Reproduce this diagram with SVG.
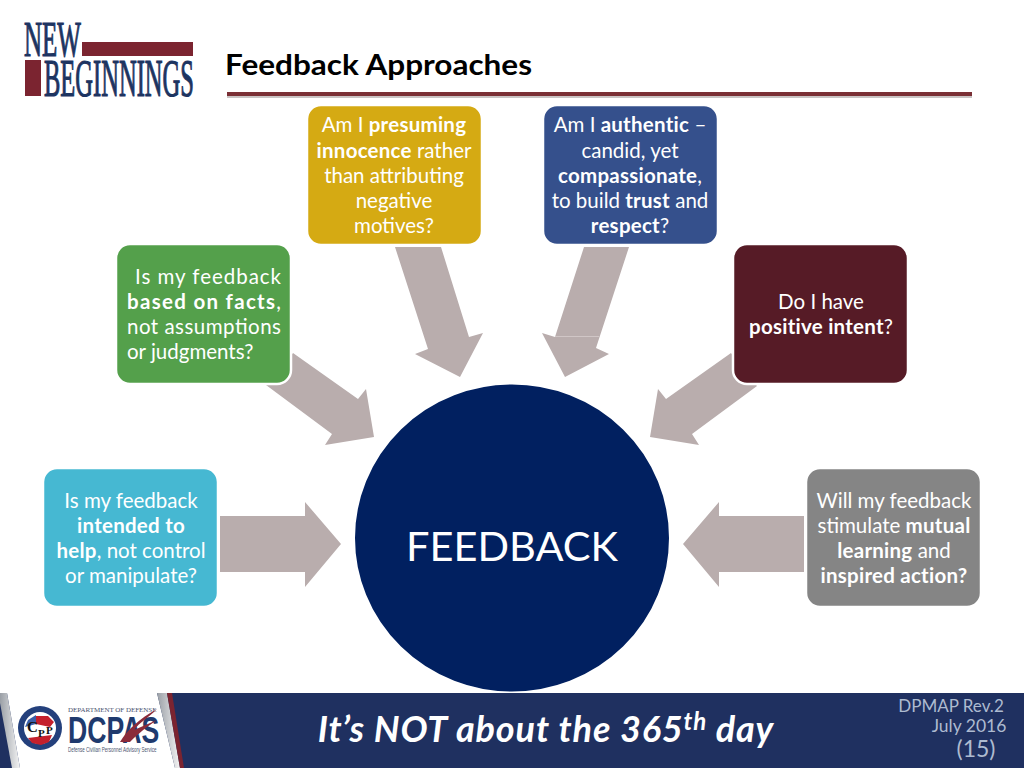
<svg xmlns="http://www.w3.org/2000/svg" width="1024" height="768" viewBox="0 0 1024 768">
<style>
text{font-family:Lato,"Noto Sans",sans-serif}
.b{stroke:#fff;stroke-width:2.5}
.t{font-size:20.5px;fill:#fff;text-anchor:middle}
.tl{font-size:20.5px;fill:#fff}
.s{font-weight:700;letter-spacing:.25px}
.a{fill:#b9adad}
.f{fill:#aebbd0;text-anchor:middle}
.sf{font-family:"Liberation Serif",serif}
.ss{font-family:"Liberation Sans",sans-serif}
</style>
<defs>
<linearGradient id="band" x1="0" x2="1" y1="0" y2="0"><stop offset="0" stop-color="#9a9fa6"/><stop offset="1" stop-color="#f4f4f4"/></linearGradient>
</defs>
<rect width="1024" height="768" fill="#fff"/>
<g id="logo">
<rect x="82" y="42" width="111" height="14" fill="#7b2430"/>
<rect x="25" y="60" width="16" height="36" fill="#7b2430"/>
<text class="sf" transform="translate(24 56) scale(.5 1)" font-size="50" fill="#1d3461" stroke="#1d3461" stroke-width="1.2">NEW</text>
<text class="sf" transform="translate(44 96) scale(.472 1)" font-size="52" fill="#1d3461" stroke="#1d3461" stroke-width="1.2">BEGINNINGS</text>
</g>
<g id="title">
<text x="225" y="75" font-size="28" font-weight="700" fill="#000" textLength="307" lengthAdjust="spacingAndGlyphs">Feedback Approaches</text>
<rect x="227" y="95" width="745" height="3" fill="#c9c4c4"/>
<rect x="227" y="92" width="745" height="4" fill="#7a2f35"/>
</g>
<g id="connectors">
<polygon class="a" points="395,247 441,247 469,337 483,333 460,377 415,354 428,349"/>
<polygon class="a" points="584,247 629,247 596,348 609,354 565,377 542,333 555,337"/>
<line x1="555" y1="336.5" x2="599" y2="336.5" stroke="#d6cdcd" stroke-width=".8"/>
<polygon class="a" points="293,353 358,399 366,389 374,437 325,445 332,434 266,385"/>
<polygon class="a" points="731,353 666,399 658,389 650,437 699,445 692,434 757,386"/>
<polygon class="a" points="220,516 305,516 305,502 341,544 305,587 305,572 220,572"/>
<polygon class="a" points="804,516 719,516 719,502 683,544 719,587 719,572 804,572"/>
</g>
<g id="node-presuming">
<rect class="b" x="307" y="105" width="175" height="140" rx="14" fill="#d5aa13"/>
<text class="t" x="394" y="132">Am I <tspan class="s">presuming</tspan></text>
<text class="t" x="394" y="157.500"><tspan class="s">innocence</tspan> rather</text>
<text class="t" x="394" y="182.500">than attributing</text>
<text class="t" x="394" y="207.500">negative</text>
<text class="t" x="394" y="232.500">motives?</text>
</g>
<g id="node-authentic">
<rect class="b" x="543" y="105" width="175" height="140" rx="14" fill="#35508c"/>
<text class="t" x="630" y="132">Am I <tspan class="s">authentic</tspan> –</text>
<text class="t" x="630" y="157.500">candid, yet</text>
<text class="t" x="630" y="182.500"><tspan class="s">compassionate</tspan>,</text>
<text class="t" x="630" y="207.500">to build <tspan class="s">trust</tspan> and</text>
<text class="t" x="630" y="232.500"><tspan class="s">respect</tspan>?</text>
</g>
<g id="node-facts">
<rect class="b" x="116" y="244" width="175" height="140" rx="14" fill="#54a04b"/>
<text class="tl" x="135" y="283.500" textLength="146">Is my feedback</text>
<text class="tl" x="127" y="308.500" textLength="154"><tspan class="s">based on facts</tspan>,</text>
<text class="tl" x="127" y="333.500" textLength="154">not assumptions</text>
<text class="tl" x="127" y="358.500">or judgments?</text>
</g>
<g id="node-intent">
<rect class="b" x="733" y="244" width="175" height="140" rx="14" fill="#561b26"/>
<text class="t" x="821" y="308.500">Do I have</text>
<text class="t" x="821" y="334">  <tspan class="s">positive intent</tspan>?</text>
</g>
<g id="node-help">
<rect class="b" x="43" y="468" width="175" height="139" rx="14" fill="#46b8d2"/>
<text class="t" x="131" y="507.500">Is my feedback</text>
<text class="t" x="131" y="532.500"><tspan class="s">intended to</tspan></text>
<text class="t" x="131" y="557.500"><tspan class="s">help</tspan>, not control</text>
<text class="t" x="131" y="582.500">or manipulate?</text>
</g>
<g id="node-mutual">
<rect class="b" x="806" y="468" width="175" height="139" rx="14" fill="#858585"/>
<text class="t" x="894" y="507.500">Will my feedback</text>
<text class="t" x="894" y="532.500">stimulate <tspan class="s">mutual</tspan></text>
<text class="t" x="894" y="557.500"><tspan class="s">learning</tspan> and</text>
<text class="t" x="894" y="582.500"><tspan class="s">inspired action?</tspan></text>
</g>
<g id="node-feedback">
<ellipse cx="512" cy="538" rx="158" ry="154.5" fill="#012060" stroke="#fff" stroke-width="2"/>
<text x="512" y="561" font-size="41.500" fill="#fff" text-anchor="middle">FEEDBACK</text>
</g>
<g id="footer">
<rect x="0" y="693" width="1024" height="75" fill="#1f3060"/>
<polygon points="7,693 157,693 175,768 20,768" fill="#fff"/>
<polygon points="0,693 7,693 20,768 12,768 0,703" fill="url(#band)"/>
<polygon points="157,693 167,693 180,768 175,768" fill="url(#band)"/>
<polygon points="167,693 172,693 184,768 180,768" fill="#7b2430"/>
<text x="546" y="742" font-size="36" font-weight="700" font-style="italic" fill="#fff" text-anchor="middle" letter-spacing=".85">It’s NOT about the 365<tspan font-size="24" dy="-12">th</tspan><tspan dy="12"> day</tspan></text>
<text class="f" x="951" y="712" font-size="17">DPMAP Rev.2</text>
<text class="f" x="969" y="732" font-size="17.5">July 2016</text>
<text class="f" x="976" y="757" font-size="23">(15)</text>
</g>
<g id="dcpas-logo">
<circle cx="40" cy="728" r="22" fill="#24407c"/>
<circle cx="40" cy="728" r="16" fill="#fff"/>
<path d="M36 716h12l6 6-4 5-14-3zM28 738l24-3-3 7-8 3-9-2z" fill="#c4202c"/>
<path d="M25 727l3-7 8-5v9z" fill="#3b5ea8"/>
<text class="sf" x="27" y="732" font-size="15" font-weight="700" fill="#111">C</text>
<text class="sf" x="38" y="737" font-size="11" font-weight="700" fill="#111">P</text>
<text class="sf" x="46" y="734" font-size="11" font-weight="700" fill="#111">P</text>
<text class="sf" x="68" y="712" font-size="7" fill="#4a5470" letter-spacing=".5" textLength="89">DEPARTMENT OF DEFENSE</text>
<text class="ss" transform="translate(68 743) scale(.72 1)" font-size="37" font-weight="700" fill="#1f3a6e">DCPAS</text>
<path d="M120 742c8-13 19-23 37-33-9 9-17 13-23 21l23-10c-12 8-19 14-27 22z" fill="#8b2b3a"/>
<text class="ss" transform="translate(68 752) scale(.663 1)" font-size="6.8" fill="#4a5470">Defense Civilian Personnel Advisory Service</text>
</g>
</svg>
